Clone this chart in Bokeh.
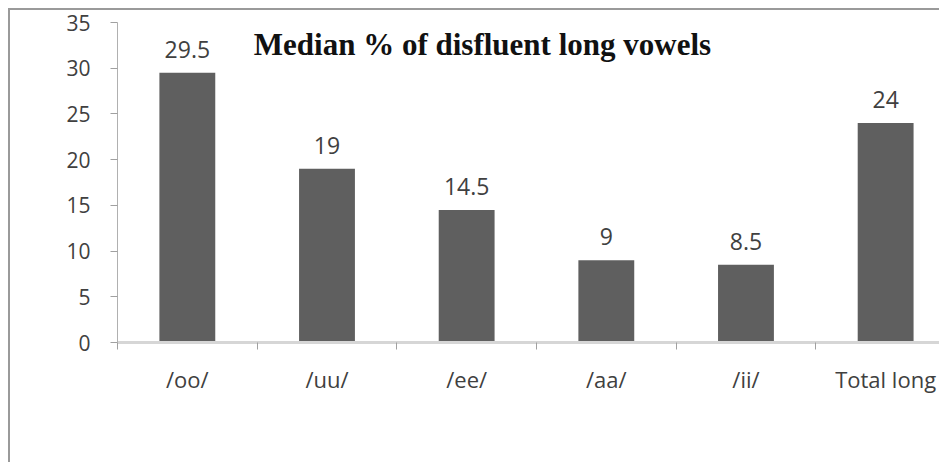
from bokeh.plotting import figure
from bokeh.models import ColumnDataSource, Range1d, FixedTicker, Label, LabelSet
from bokeh.core.properties import value
from bokeh.embed import file_html
from bokeh.resources import INLINE

categories = ["/oo/", "/uu/", "/ee/", "/aa/", "/ii/", "Total long"]
medians = [29.5, 19, 14.5, 9, 8.5, 24]
value_labels = ["29.5", "19", "14.5", "9", "8.5", "24"]
y_ticks = [0, 5, 10, 15, 20, 25, 30, 35]
title_text = "Median % of disfluent long vowels"

xs = [i + 0.5 for i in range(len(categories))]
src = ColumnDataSource(dict(x=xs, top=medians, lab=value_labels))

p = figure(width=931, height=454, output_backend="svg", toolbar_location=None,
           x_range=Range1d(0, 5.90), y_range=Range1d(0, 35),
           min_border_left=107, min_border_top=12, min_border_bottom=122, min_border_right=0)
p.styles = {"margin-left": "8px", "margin-top": "8px",
            "border-left": "2px solid #9a9a9a", "border-top": "2px solid #9a9a9a"}
p.outline_line_color = None
p.xgrid.visible = False
p.ygrid.visible = False
p.background_fill_color = "white"
p.border_fill_color = "white"

p.vbar(x="x", top="top", width=0.40, bottom=0, source=src,
       fill_color="#5f5f5f", line_color=None)

labels = LabelSet(x="x", y="top", text="lab", source=src, text_align="center",
                  text_baseline="alphabetic", y_offset=15,
                  text_font=value("Open Sans"), text_font_size="23px", text_color="#404040")
p.add_layout(labels)

title = Label(x=2.613, y=32.55, text=title_text, text_align="center", text_baseline="middle",
              text_font="Liberation Serif", text_font_style="bold",
              text_font_size="31px", text_color="#111111")
p.add_layout(title)

# x axis
xa = p.xaxis[0]
xa.ticker = FixedTicker(ticks=xs, minor_ticks=list(range(len(categories) + 1)))
xa.major_label_overrides = {x: c for x, c in zip(xs, categories)}
xa.major_tick_out = 0
xa.major_tick_in = 0
xa.minor_tick_out = 7
xa.minor_tick_in = 0
xa.minor_tick_line_color = "#a0a0a0"
xa.axis_line_color = "#d6d6d6"
xa.axis_line_width = 3
xa.major_label_standoff = 14
xa.major_label_text_font = "Open Sans"
xa.major_label_text_font_size = "22px"
xa.major_label_text_color = "#404040"

# y axis
ya = p.yaxis[0]
ya.ticker = FixedTicker(ticks=y_ticks, minor_ticks=[])
ya.major_tick_out = 7
ya.major_tick_in = 0
ya.major_tick_line_color = "#a0a0a0"
ya.axis_line_color = "#b0b0b0"
ya.major_label_standoff = 20
ya.major_label_text_font = "Open Sans"
ya.major_label_text_font_size = "21px"
ya.major_label_text_color = "#404040"

open("out.html", "w").write(file_html(p, INLINE))
